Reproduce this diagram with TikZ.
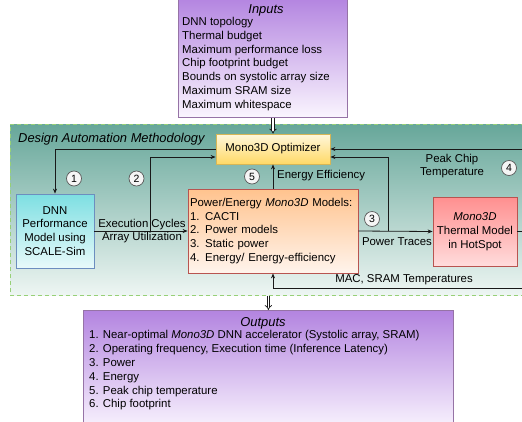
\documentclass[tikz,border=0pt]{standalone}
\usepackage{fontspec}
\setmainfont{Liberation Sans}
\usetikzlibrary{arrows.meta,calc}
\definecolor{purtop}{HTML}{B384E0}
\definecolor{purbot}{HTML}{FAF5FE}
\definecolor{purbd}{HTML}{9673A6}
\definecolor{grtop}{HTML}{67A79A}
\definecolor{grbot}{HTML}{EEF6F3}
\definecolor{grbd}{HTML}{97D077}
\definecolor{yetop}{HTML}{FFF7DC}
\definecolor{yebot}{HTML}{FFD966}
\definecolor{yebd}{HTML}{D6B656}
\definecolor{cytop}{HTML}{7DDFE2}
\definecolor{cybot}{HTML}{E8FAFA}
\definecolor{cybd}{HTML}{6C8EBF}
\definecolor{ortop}{HTML}{FFC38E}
\definecolor{orbot}{HTML}{FFF4EC}
\definecolor{rdtop}{HTML}{FF8F8F}
\definecolor{rdbot}{HTML}{FFDCDC}
\definecolor{rdbd}{HTML}{B85450}
\begin{document}
\begin{tikzpicture}[x=1pt,y=-1pt,
  body/.style={font=\fontsize{11.4}{13.8}\selectfont},
  ttl/.style={font=\fontsize{12.9}{14}\selectfont\itshape},
  box/.style={draw, line width=0.8pt, inner sep=0pt, body},
  conn/.style={draw=black!90, line width=0.8pt, -{Stealth[length=5pt,width=4pt]}},
  plain/.style={draw=black!90, line width=0.8pt},
  hollow/.style={draw=black!90, double=white, double distance=1.8pt, line width=0.7pt, -{Implies[length=4pt]}},
  num/.style={circle, draw=black!65, fill=gray!8, line width=0.7pt, minimum size=15pt, inner sep=0pt, font=\fontsize{10.5}{12}\selectfont},
  lbl/.style={body, inner sep=0pt}
]
\useasboundingbox (0,0) rectangle (522,421);
\fill[white] (0,0) rectangle (522,421);

% design automation region
\node[draw=grbd, dashed, dash pattern=on 4pt off 3pt, line width=0.9pt, top color=grtop, bottom color=grbot,
      minimum width=522pt, minimum height=171pt, anchor=north west, inner sep=0pt] (dam) at (10,124) {};
\node[ttl, anchor=west, inner sep=0pt] (damtitle) at (18,139) {Design Automation Methodology};

% inputs
\node[box, draw=purbd, top color=purtop, bottom color=purbot, minimum width=169pt, minimum height=120pt, anchor=north west] (inputs) at (178,-3) {};
\node[ttl, inner sep=0pt] (inputstitle) at (266,10) {Inputs};
\node[body, align=left, anchor=north west, inner sep=0pt] (inputstext) at (182,17) {DNN topology\\Thermal budget\\Maximum performance loss\\Chip footprint budget\\Bounds on systolic array size\\Maximum SRAM size\\Maximum whitespace};

% optimizer
\node[box, draw=yebd, top color=yetop, bottom color=yebot, minimum width=114pt, minimum height=30pt] (opt) at (273,149) {Mono3D Optimizer};

% DNN
\node[box, draw=cybd, top color=cytop, bottom color=cybot, minimum width=78pt, minimum height=74pt, align=center] (dnn) at (55,231) {DNN\\Performance\\Model using\\SCALE-Sim};

% power
\node[box, draw=rdbd, top color=ortop, bottom color=orbot, minimum height=84pt, text width=166pt, inner xsep=2pt, align=left] (power) at (273,231) {Power/Energy \textit{Mono3D} Models:\\1. CACTI\\2. Power models\\3. Static power\\4. Energy/ Energy-efficiency};

% thermal
\node[box, draw=rdbd, top color=rdtop, bottom color=rdbot, minimum width=84pt, minimum height=69pt, align=center] (thermal) at (475,231.5) {\textit{Mono3D}\\Thermal Model\\in HotSpot};

% outputs
\node[box, draw=purbd, top color=purtop, bottom color=purbot, minimum width=370pt, minimum height=120pt, anchor=north west] (outputs) at (83,310) {};
\node[ttl, inner sep=0pt] (outputstitle) at (263,323) {Outputs};
\node[body, align=left, anchor=north west, inner sep=0pt] (outputstext) at (89,330.5) {1. Near-optimal \textit{Mono3D} DNN accelerator (Systolic array, SRAM)\\2. Operating frequency, Execution time (Inference Latency)\\3. Power\\4. Energy\\5. Peak chip temperature\\6. Chip footprint};

% hollow arrows
\draw[hollow] (opt.north |- inputs.south) -- (opt.north);
\draw[hollow] (outputs.north |- dam.south) -- (outputs.north);

% connectors
\draw[conn] (opt.west) -| (dnn.north);
\draw[conn] (dnn.east) -- (power.west);
\coordinate (b2) at (150,231);
\draw[conn] (b2) |- ([yshift=-8pt]opt.west);
\draw[conn] (power.east) -- (thermal.west);
\coordinate (b3) at (388,231);
\draw[conn] (b3) |- ([yshift=-8pt]opt.east);
\coordinate (re1) at (525,149);
\draw[conn] (re1) -- (opt.east);
\coordinate (re2) at (525,231.5);
\draw[plain] (thermal.east) -- (re2);
\draw[conn] (power.north) -- (opt.south);
\coordinate (re3) at (525,288);
\draw[conn] (re3) -| (power.south);

% labels
\node[lbl] (l1) at (142,224.5) {Execution Cycles};
\node[lbl] (l2) at (142,238) {Array Utilization};
\node[lbl, anchor=west] (l3) at (277,176) {Energy Efficiency};
\node[lbl] (l4) at (452,160) {Peak Chip};
\node[lbl] (l5) at (452,173) {Temperature};
\node[lbl] (l6) at (397,242) {Power Traces};
\node[lbl] (l7) at (404,280) {MAC, SRAM Temperatures};

% numbers
\node[num] (n1) at (74,178.5) {1};
\node[num] (n2) at (136.5,178.5) {2};
\node[num] (n5) at (252,176.5) {5};
\node[num] (n3) at (372,219) {3};
\node[num] (n4) at (509,168) {4};
\end{tikzpicture}
\end{document}
